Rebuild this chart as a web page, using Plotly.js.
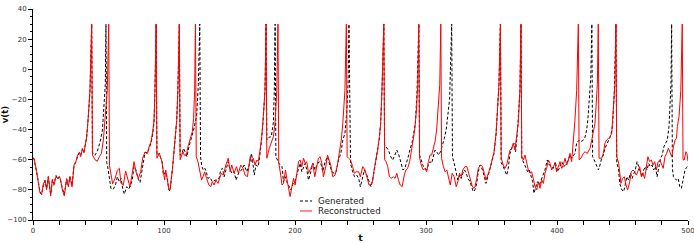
<!DOCTYPE html>
<html>
<head>
<meta charset="utf-8">
<script src="https://cdn.plot.ly/plotly-3.0.1.min.js"></script>
<style>html,body{margin:0;padding:0;background:#fff;}#chart{width:694px;height:243px;}</style>
</head>
<body>
<div id="chart"></div>
<script>
// Reconstructed trace (red)
const tRec = [0,0.8,2.8,4.2,5.3,6.6,7.9,9.2,10.4,11.7,13.5,14.8,16,17.6,18.8,20.1,21.1,22.4,23.9,25.7,27,28.2,29.8,31.3,32.8,34.1,35.4,36.4,37.7,38.9,40,41,42.2,43.5,44.8,
45.4,47.3,49.1,50.6,52.2,53.7,55.2,56.7,57.8,
58.4,60.8,62.6,64.4,65.9,67.2,68.9,70.7,72.3,74,75.6,77.1,78.6,80.4,82.2,83.7,85.5,87.3,88.6,90.1,91.4,92.4,93.1,94,
94.6,96.5,97.5,98.5,99.5,100.5,101.3,102.6,103.6,104.6,105.6,106.6,107.6,108.6,109.7,110.6,111.7,
112.3,114.5,115.5,117,118.3,120,121.6,122.6,123.4,124,
124.6,125.9,127.4,128.7,129.7,131,132.5,134.3,135.6,136.9,138.2,139.7,141.2,142.5,143.8,145.4,147.2,149,150.5,151.7,153.5,155.3,156.8,158.6,160.4,161.9,163.7,165.8,166.9,168.2,169.5,170.8,172,173.3,174.6,175.8,177.1,177.9,
178.5,180.4,181.9,183.5,184.8,186.1,187,
187.6,189.1,190.1,191.2,192.7,193.7,195,196.3,197.6,198.9,200.1,201.4,202.7,203.9,205.2,206.5,207.8,209,210.3,212.1,213.6,215.1,216.7,217.9,219.2,220.5,221.7,223.5,224.8,226,227.3,228.8,230.6,232.4,234,235.3,236.5,238.1,239.2,
239.8,240.9,242.4,244,245.3,246.6,248.6,249.9,251.7,253.4,254.7,256.5,258,259.3,260.6,261.8,263.1,264.4,265.4,266.4,267.8,
268.4,269.5,270.8,272.1,273.4,275.1,276.4,277.7,279,280.3,281.8,283.4,284.7,286,287.5,288.8,290.1,291.4,292.7,293.7,294.5,
295.1,296.7,298,299.2,300.5,301.8,303.1,304.3,305.6,306.9,308.1,309.4,310.5,311.3,
311.9,313.3,314.6,315.9,317.2,318.5,320,321.5,323.1,324.3,325.6,326.9,328.1,329.7,331.2,332.5,333.8,335.1,336.4,337.4,338.7,339.9,341.7,343.2,344.5,345.8,347.6,348.9,350.4,351.9,353.5,354.7,355.7,356.8,
357.4,359,360.3,361.6,363.1,364.1,365.4,366.6,367.9,369.2,370.4,371.7,372.5,
373.1,374.3,375.6,376.8,378.1,379.4,380.6,381.9,383.2,384.5,385.8,387,388.3,389.6,390.8,392.1,393.4,394.7,395.9,397.2,398.5,399.7,401,402.3,403.6,404.8,406.1,407.4,408.7,409.9,411.2,412.5,413.7,415,416.3,
416.9,418.3,420.1,421.4,423.1,425.2,426.5,427.7,429,429.8,430.8,431.5,
432.1,434.1,435.4,436.6,437.9,439.2,440.5,441.8,443,444.2,445,
445.6,447.1,447.8,448.8,450.1,451.4,452.7,453.9,455.5,456.7,458,459.3,460.6,461.8,463.1,464.4,465.6,466.9,468.2,469.4,470.7,472,473.3,474.6,475.9,477.2,478.5,479.8,481.1,482.4,483.7,485,486.3,487.6,488.9,490.1,491.2,491.9,493.2,494.5,495.6,
496.2,497.1,498.4,499.2,500];
const vRec = [-59,-59,-68,-76,-82,-83,-76,-73.5,-80,-71,-84,-73,-77,-71,-72.5,-71,-73.5,-80,-84,-72.5,-78,-71,-78,-63.5,-61,-57,-55,-58,-52.5,-55.5,-49,-44.5,-31.5,-14,30,
-57,-60,-61,-58,-56,-47,-31.5,-14,30,
-64,-76,-72.5,-67,-65.7,-75.7,-77,-67.5,-73.5,-78,-70,-61.3,-68,-72.5,-68,-59,-55,-56,-51.4,-48,-41.4,-33.7,-14,30,
-59,-55.8,-59,-61.3,-68,-73.5,-66.8,-72.4,-79,-80.1,-73.5,-64.6,-54.7,-44.7,-33.7,-14,30,
-60,-54.7,-57,-57,-51.4,-47,-41.4,-32.5,-14,30,
-58,-61.3,-69,-73.5,-71.3,-68,-72.4,-76.8,-78,-74.6,-76.8,-73.5,-75.7,-72.4,-69,-70.2,-63.5,-59,-68,-63.5,-69,-64.6,-69,-63.5,-65.7,-70.2,-71.3,-58,-61.3,-59,-63.5,-60.2,-61.3,-53.6,-44.7,-31.5,-14,30,
-59,-52.4,-49,-44.7,-35,-14,30,
-62,-70.2,-76.8,-75.7,-66.8,-72.4,-78,-84.5,-78,-72.4,-76.8,-69,-61.3,-60.2,-64.6,-59,-62.4,-61.3,-69,-65.7,-62.4,-71.3,-64.6,-59,-58,-62.4,-71.3,-64.6,-56.9,-60.2,-63.5,-71.3,-70.2,-63.5,-53.6,-47,-35.8,-14,30,
-58,-59,-60.2,-64.6,-69,-68,-68,-71.3,-64.6,-66.8,-71.3,-76.8,-76.8,-73.5,-65.7,-60.2,-53.6,-44.7,-35.8,-14,30,
-60,-61.3,-64.6,-71.3,-72.4,-71.3,-72.4,-69,-73.5,-76.8,-77.9,-70.2,-66.8,-65.7,-61.3,-53.6,-49.1,-40.3,-27,-10,30,
-59,-64.6,-66.8,-65.7,-68,-61.3,-56.9,-56.9,-52.4,-48,-40.3,-27,-10,30,
-59,-64.6,-68,-66.8,-72.4,-76.8,-69,-71.3,-77.9,-74.6,-69,-71.3,-66.8,-64.6,-64.6,-69,-73.5,-77,-79,-78,-72.5,-65.7,-63.5,-64.6,-69,-73.5,-69,-65.7,-60.2,-55,-42.5,-27,-10,30,
-59,-63.5,-65.7,-63.5,-58,-53.6,-52.4,-49.1,-53.6,-42.5,-35.8,-14,30,
-58,-60.2,-56.9,-61.3,-66.8,-69,-68,-72.4,-77.9,-80.1,-74.6,-79,-73.5,-75.7,-69,-65.7,-60.2,-62.4,-66.8,-64.6,-62.4,-68,-64.6,-61.3,-65.7,-63.5,-59,-63.5,-60.2,-55.8,-61.3,-49.1,-33.7,-14,30,
-60,-59,-55.8,-54.7,-55.8,-52.4,-47,-42.5,-35.8,-24.8,-10,30,
-59,-59,-55.8,-49.1,-46.9,-46,-44.7,-42.5,-27,-10,30,
-58,-62.4,-70.2,-75.7,-72.4,-71.3,-76.8,-80.1,-74.6,-68,-66.8,-68,-70.2,-66.8,-64.6,-71.3,-69,-72.4,-63.5,-58,-61.3,-60.2,-63.5,-61.3,-66.8,-61.3,-60.2,-63.5,-65.7,-58,-55.8,-52.4,-54.7,-58,-51.4,-47,-45.8,-38,-31,-14,30,
-60,-60.2,-54.7,-56,-61];

// Generated trace (black dashed)
const tGen = [0,0.8,2.8,4.2,5.3,6.6,7.9,9.2,10.4,11.7,13.5,14.8,16,17.6,18.8,20.1,21.1,22.4,23.9,25.7,27,28.2,29.8,31.3,32.8,34.1,35.4,36.4,37.7,38.9,40,41,42.2,43.5,44.8,
45.4,46,47.3,49.1,50.6,51.4,53,54.2,55.2,55.7,
56.3,57,58.3,59.5,61.3,62.9,64.4,65.9,67.2,68.4,69.7,71.5,73,74.6,75.8,77.1,78.6,80.4,81.7,83.7,85.5,87.3,88.6,90.1,91.4,92.4,93.1,94,
94.6,96.5,97.5,98.5,99.5,100.5,101.3,102.6,103.6,104.6,105.6,106.6,107.6,108.6,109.7,110.6,111.7,
112.3,113.7,115,116.3,117.5,119,120.5,122.6,124.9,126.2,127.3,
127.9,128.9,130,131.2,132.3,133.5,135.1,136.9,138.7,140.2,142,143.3,144.6,145.9,147.2,149,150.2,151.7,153.5,155,157.3,159.4,161.2,163.2,165,166.8,167.7,168.9,170.2,172,173.3,174.6,175.8,177.1,177.9,
178.5,180.4,181.9,183.5,184.2,184.8,
185.4,186.6,187.6,189.1,190.1,191.2,192.5,193.7,195.3,196.8,198.9,200.1,201.4,202.7,203.9,205.2,206.5,207.8,209,210.3,212.1,213.6,215.4,216.7,218.4,219.7,221.2,223,224.8,226.3,228.1,229.9,231.4,233.2,235,236.5,238.1,239.6,240.5,241.2,
241.8,242.4,244,245.5,247.1,248.6,249.9,251.7,253,254.7,256.5,258,259.3,260.6,261.8,263.1,264.4,265.4,266.4,267.8,
268.4,269.5,271.3,273.1,274.6,276.2,277.7,279.3,280.8,282.4,283.9,285.5,286.8,288,289.3,290.6,291.9,293.2,294.5,
295.1,296.7,298,299.2,300.5,301.8,303.1,304.3,305.6,306.9,308.1,309.7,311,312.3,314,315.4,316.6,318,319.6,
320.2,321.8,323.1,324.3,325.6,326.9,328.1,329.4,330.7,332,333.6,334.9,336.1,337.4,338.7,339.9,341.2,343.2,344.5,345.8,347.6,348.9,350.4,351.9,353.5,354.7,355.7,356.8,
357.4,359,360.3,361.6,362.8,364.1,365.9,367.2,368.4,369.9,371.7,372.5,
373.1,375,376.3,377.6,378.9,380.1,381.4,382.4,383.7,385,386.5,388.3,389.6,390.8,392.6,394.1,395.9,397.2,398.7,400.2,401.8,403.6,405.3,407.4,408.7,409.9,411.2,412.5,413.7,415,416.8,418.3,420.1,421.4,422.6,423.6,424.8,425.8,426.6,
427.2,429,430.3,431.6,432.8,434.1,435.4,436.6,437.9,439.2,440.5,441.8,442.5,443.8,445,
445.6,447.1,447.8,449.6,450.9,452.2,453.4,454.7,456,457.3,458.5,459.8,461.1,462.4,463.6,464.9,466.2,467.4,468.7,470,471.2,472.5,473.8,475.1,476.4,477.7,479,480.3,481.6,482.9,484.2,485.5,486.3,487,487.5,
488.1,488.9,490.1,491.2,492.5,493.7,495,496.5,497.7,499,500];
const vGen = [-59,-59.5,-68.5,-76,-81,-83,-77,-74,-79,-71.5,-83,-73.5,-76,-70.5,-73,-71.5,-74,-79,-83,-73,-77,-71.5,-77,-64,-61.5,-57.5,-55.5,-57,-53,-55,-49.5,-45,-32,-14,30,
-55,-55.8,-57,-54.5,-50,-47.5,-40.3,-27,-10,30,
-62,-64.6,-73.5,-79,-79.6,-76.8,-71.3,-74.6,-72.4,-79,-82.8,-77.9,-79.6,-76.8,-73,-64.6,-66.8,-73,-75.2,-63.5,-55,-55.5,-52,-49,-43,-35,-14,30,
-57,-55.8,-59,-61.3,-70,-69,-68,-72.4,-80,-80.6,-74,-65,-55,-45,-34,-14,30,
-57,-55.8,-52.4,-55.8,-58,-51.4,-47,-40.3,-31,-10,30,
-58,-64.6,-66.8,-65.7,-68,-72.4,-71.7,-74.6,-73.9,-73.5,-72.4,-66.8,-65.7,-71.3,-66.8,-61.3,-65.7,-69,-68,-73.5,-68,-66.8,-63.5,-68,-63.5,-55.8,-61.3,-70.2,-63.5,-64.6,-56,-46,-32,-14,30,
-47,-45,-44.7,-35,-14,30,
-58,-60.2,-62.4,-63.5,-64.6,-74.6,-71.3,-74.6,-78,-80.1,-75,-74,-70,-66.8,-62.4,-68,-65.7,-62.4,-66.8,-73.5,-68,-62.4,-66.8,-63.5,-61.3,-62.4,-68,-61.3,-58,-62.4,-68,-69,-68,-60.2,-55.8,-47,-42.5,-27,-10,30,
-58,-62.4,-68,-71.3,-70.2,-72.4,-78,-71.3,-66.8,-70,-75,-77.9,-73.5,-66.8,-61.3,-54.7,-46,-36,-14,30,
-50,-51.4,-53.6,-58,-60.2,-56.9,-53.6,-56.9,-61.3,-66.8,-65.7,-61.3,-56.9,-52.4,-49.1,-42.5,-35.8,-14,30,
-57,-61.3,-64.6,-65.7,-66.8,-63.5,-61.3,-62.4,-56.9,-53.6,-54.7,-56.9,-54.7,-51.4,-46,-40.3,-31.5,-20,30,
-58,-63.5,-68,-73.5,-70.2,-72.4,-69,-66.8,-69,-72.4,-74.6,-79,-81.2,-80.1,-75.7,-68,-63.5,-66.8,-72.4,-75.7,-70,-66,-61,-56,-43,-27,-10,30,
-62,-64.6,-68,-70.2,-65.7,-55.8,-51.4,-49.1,-54.7,-40.3,-14,30,
-59,-62.4,-64.6,-68,-66.8,-70.2,-74.6,-82.3,-77.9,-74.6,-76.8,-72.4,-70.2,-66.8,-60.2,-63.5,-64.6,-65.7,-61.3,-68,-65.7,-61.3,-64.6,-62.4,-60.2,-56.9,-59,-56.9,-55.8,-49.1,-47,-48,-47,-45,-40.3,-33,-20,-5,30,
-58,-61.3,-63.5,-66.8,-63.5,-59,-56.9,-52.4,-50,-48,-45,-41,-35.8,-14,30,
-62,-66.8,-75.7,-80.1,-81.2,-75.7,-71.3,-73.5,-69,-72.4,-70.2,-66.8,-61.3,-64.6,-69,-71.3,-66.8,-64.6,-66.8,-62.4,-64.6,-63.5,-66.8,-64.6,-71.3,-64.6,-59,-56.9,-51.4,-49.1,-47,-38,-27,-10,30,
-66,-71.3,-72.4,-73.5,-72.4,-77.9,-79,-72,-66.8,-65,-64];

const seriesNames = ['Generated', 'Reconstructed'];
const xTitle = 't';
const yTitle = 'v(t)';

const traces = [
  {x: tGen, y: vGen, type: 'scatter', mode: 'lines', name: seriesNames[0],
   line: {color: '#000000', width: 1, dash: '3px,2px'}, hoverinfo: 'skip'},
  {x: tRec, y: vRec, type: 'scatter', mode: 'lines', name: seriesNames[1],
   line: {color: '#ff0000', width: 1}, hoverinfo: 'skip'}
];

const tickFont = {family: 'DejaVu Sans, sans-serif', size: 7, color: '#333333'};

const layout = {
  width: 694, height: 243,
  margin: {l: 33, r: 6, t: 9, b: 23, pad: 0},
  paper_bgcolor: '#ffffff', plot_bgcolor: '#ffffff',
  showlegend: false,
  font: {family: 'DejaVu Sans, sans-serif', color: '#222222'},
  xaxis: {
    range: [0, 500], tick0: 0, dtick: 100, ticks: 'outside', ticklen: 4, tickwidth: 1, tickcolor: '#000',
    showline: true, linecolor: '#000', linewidth: 1, showgrid: false, zeroline: false,
    tickfont: tickFont, automargin: false, ticklabeloverflow: 'allow',
    minor: {dtick: 20, ticks: 'outside', ticklen: 4, tickwidth: 1, tickcolor: '#000', showgrid: false},
    title: {text: '<b>' + xTitle + '</b>', font: {family: 'DejaVu Sans, sans-serif', size: 9.5, color: '#111'}, standoff: 3}
  },
  yaxis: {
    range: [-100, 40], tick0: 0, dtick: 20, ticks: 'outside', ticklen: 4, tickwidth: 1, tickcolor: '#000',
    showline: true, linecolor: '#000', linewidth: 1, showgrid: false, zeroline: false,
    tickfont: tickFont, automargin: false, ticklabeloverflow: 'allow',
    minor: {dtick: 5, ticks: 'outside', ticklen: 2.5, tickwidth: 1, tickcolor: '#000', showgrid: false},
    title: {text: '<b>' + yTitle + '</b>', font: {family: 'DejaVu Sans, sans-serif', size: 8.5, color: '#111'}, standoff: 2}
  },
  shapes: [
    {type: 'line', xref: 'paper', yref: 'paper', x0: 0.4076, x1: 0.4260, y0: 0.090, y1: 0.090,
     line: {color: '#000', width: 1, dash: '3px,2px'}},
    {type: 'line', xref: 'paper', yref: 'paper', x0: 0.4076, x1: 0.4260, y0: 0.0427, y1: 0.0427,
     line: {color: 'rgba(255,0,0,0.6)', width: 1.5}}
  ],
  annotations: [
    {text: seriesNames[0], xref: 'paper', yref: 'paper', x: 0.4321, y: 0.090, xanchor: 'left', yanchor: 'middle',
     showarrow: false, font: {family: 'DejaVu Sans, sans-serif', size: 8.7, color: '#222'}},
    {text: seriesNames[1], xref: 'paper', yref: 'paper', x: 0.4321, y: 0.0427, xanchor: 'left', yanchor: 'middle',
     showarrow: false, font: {family: 'DejaVu Sans, sans-serif', size: 8.7, color: '#222'}}
  ]
};

Plotly.newPlot('chart', traces, layout, {displayModeBar: false, staticPlot: true});
</script>
</body>
</html>
